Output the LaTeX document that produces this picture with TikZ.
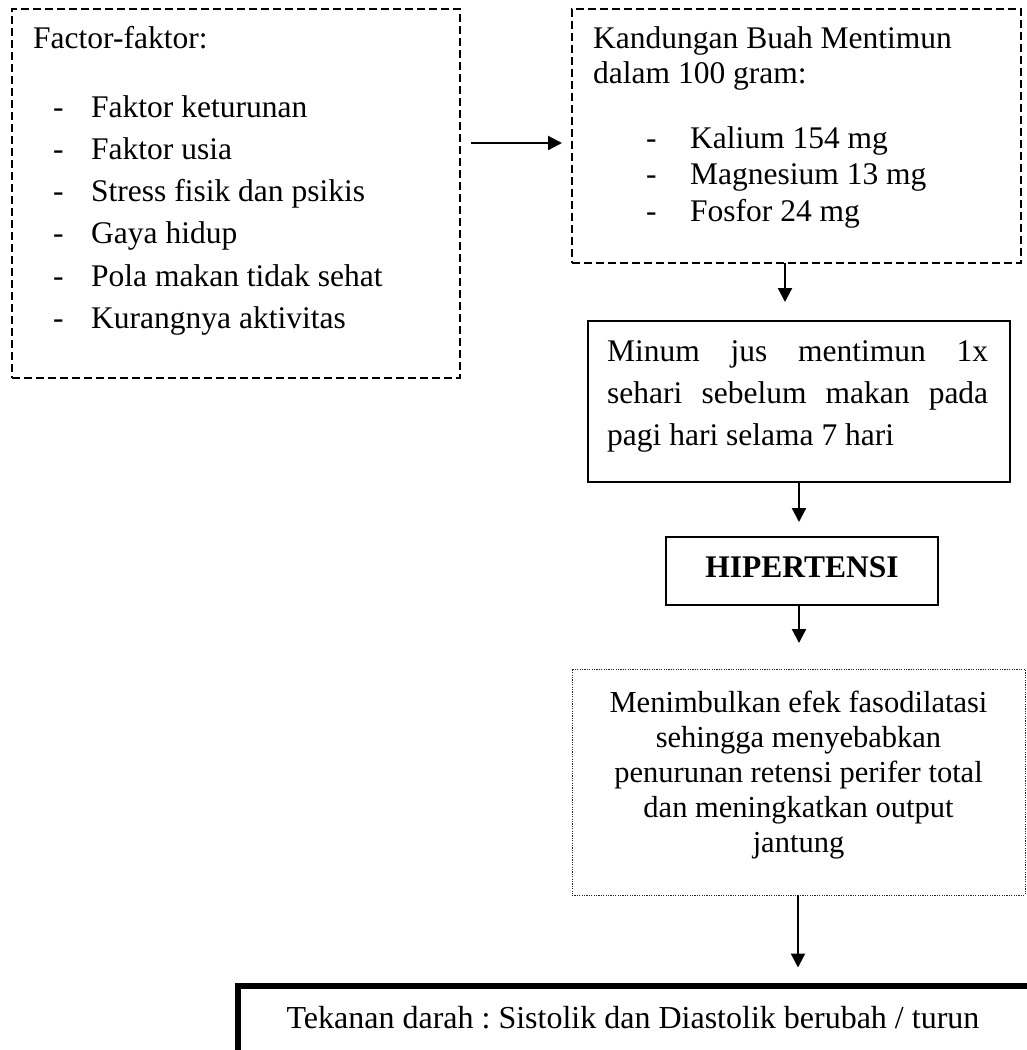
\documentclass[tikz,border=0pt]{standalone}
\usepackage{fontspec}
\setmainfont{Liberation Serif}
\usetikzlibrary{arrows.meta}
\frenchspacing
\begin{document}
\begin{tikzpicture}[x=1pt,y=-1pt,
  dbox/.style={draw, line width=1.5pt, dash pattern=on 8pt off 4pt, inner sep=0pt, outer sep=0pt, anchor=north west},
  sbox/.style={draw, line width=1.9pt, inner sep=0pt, outer sep=0pt, anchor=north west},
  obox/.style={draw, black!85, line width=0.9pt, dash pattern=on 1.2pt off 1.2pt, inner sep=0pt, outer sep=0pt, anchor=north west},
  tbox/.style={draw, line width=6pt, inner sep=0pt, outer sep=0pt, anchor=north west},
  txt/.style={anchor=base west, inner sep=0pt, font=\fontsize{31.5}{38}\selectfont},
  ctxt/.style={anchor=base, inner sep=0pt, font=\fontsize{30.5}{36}\selectfont},
  arr/.style={-{Triangle[length=14pt,width=14pt]}, line width=2.2pt}
]
\useasboundingbox (0,0) rectangle (1027,1050);
\clip (0,0) rectangle (1027,1050);

% boxes
\node[dbox, minimum width=448pt, minimum height=369pt] (lbox) at (12,9) {};
\node[dbox, minimum width=449pt, minimum height=254pt] (rbox) at (572,9) {};
\node[sbox, minimum width=422pt, minimum height=161pt] (minum) at (588,321) {};
\node[sbox, minimum width=272pt, minimum height=68pt] (hip) at (666,537) {};
\node[obox, minimum width=453pt, minimum height=226pt] (eff) at (572,669) {};
\node[tbox, minimum width=900pt, minimum height=200pt] (tek) at (238,985.5) {};

% left box text
\node[txt] (l0) at (33,48) {Factor-faktor:};
\node[txt] (ld1) at (53,117) {-};
\node[txt] (ld2) at (53,159) {-};
\node[txt] (ld3) at (53,201) {-};
\node[txt] (ld4) at (53,243) {-};
\node[txt] (ld5) at (53,286) {-};
\node[txt] (ld6) at (53,328) {-};
\node[txt] (l1) at (91,117) {Faktor keturunan};
\node[txt] (l2) at (91,159) {Faktor usia};
\node[txt] (l3) at (91,201) {Stress fisik dan psikis};
\node[txt] (l4) at (91,243) {Gaya hidup};
\node[txt] (l5) at (91,286) {Pola makan tidak sehat};
\node[txt] (l6) at (91,328) {Kurangnya aktivitas};

% right box text
\node[txt] (r0) at (593,48) {Kandungan Buah Mentimun};
\node[txt] (r00) at (593,83) {dalam 100 gram:};
\node[txt] (rd1) at (646,148) {-};
\node[txt] (rd2) at (646,184) {-};
\node[txt] (rd3) at (646,221) {-};
\node[txt] (r1) at (690,148) {Kalium 154 mg};
\node[txt] (r2) at (690,184) {Magnesium 13 mg};
\node[txt] (r3) at (690,221) {Fosfor 24 mg};

% minum text
\node[txt] (m1) at (607,361) {\makebox[381pt][s]{Minum jus mentimun 1x}};
\node[txt] (m2) at (607,403) {\makebox[381pt][s]{sehari sebelum makan pada}};
\node[txt] (m3) at (607,445) {pagi hari selama 7 hari};

% hipertensi
\node[anchor=base, inner sep=0pt, font={\fontsize{31.5}{38}\selectfont\bfseries}] (h1) at (802,577) {HIPERTENSI};

% effect text
\node[ctxt] (e1) at (798.5,712) {Menimbulkan efek fasodilatasi};
\node[ctxt] (e2) at (798.5,747) {sehingga menyebabkan};
\node[ctxt] (e3) at (798.5,782) {penurunan retensi perifer total};
\node[ctxt] (e4) at (798.5,817) {dan meningkatkan output};
\node[ctxt] (e5) at (798.5,852) {jantung};

% bottom text
\node[anchor=base, inner sep=0pt, font=\fontsize{32}{38}\selectfont] (b1) at (633,1028) {Tekanan darah : Sistolik dan Diastolik berubah / turun};

% connectors
\coordinate (a0) at (471,143);
\draw[arr, shorten <=11pt, shorten >=10pt] (lbox.east |- a0) -- (rbox.west |- a0);
\coordinate (x1) at (785,0);
\draw[arr, shorten >=19pt] (rbox.south -| x1) -- (minum.north -| x1);
\coordinate (x2) at (799,0);
\draw[arr, shorten >=15pt] (minum.south -| x2) -- (hip.north -| x2);
\draw[arr, shorten >=26pt] (hip.south -| x2) -- (eff.north -| x2);
\coordinate (x3) at (798,0);
\draw[arr, shorten >=18pt] (eff.south -| x3) -- (tek.north -| x3);
\end{tikzpicture}
\end{document}
